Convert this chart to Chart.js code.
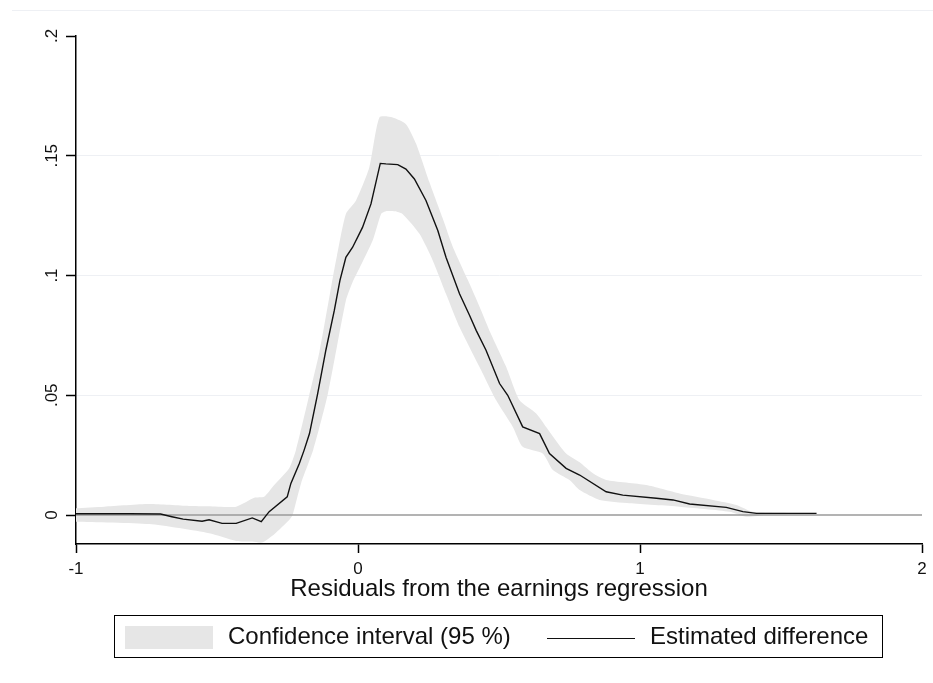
<!DOCTYPE html>
<html>
<head>
<meta charset="utf-8">
<script src="https://cdn.jsdelivr.net/npm/chart.js@4/dist/chart.umd.min.js"></script>
<style>
body{margin:0;background:#fff;font-family:"Liberation Sans",Arial,sans-serif;}
#wrap{position:relative;width:933px;height:683px;}
#topline{position:absolute;left:12px;right:0;top:10px;border-top:1px solid #eef0f4;}
#legend{position:absolute;left:114px;top:615px;width:767px;height:41px;border:1.5px solid #000;}
#legend .sw{position:absolute;left:10px;top:10px;width:88px;height:23px;background:#e6e6e6;}
#legend .ln{position:absolute;left:432px;top:22px;width:88px;border-top:1.5px solid #111;}
#legend .tx{position:absolute;top:6px;font-size:24px;color:#111;white-space:nowrap;}
</style>
</head>
<body>
<div id="wrap">
<canvas id="chart" width="933" height="683"></canvas>
<div id="topline"></div>
<div id="legend">
  <div class="sw"></div><div class="tx" style="left:113px">Confidence interval (95 %)</div>
  <div class="ln"></div><div class="tx" style="left:535px">Estimated difference</div>
</div>
</div>
<script>
// estimated difference
const estX = [-1.0,-0.81,-0.70,-0.66,-0.62,-0.553,-0.528,-0.482,-0.432,-0.375,-0.343,-0.315,-0.251,-0.238,-0.208,-0.191,-0.172,-0.143,-0.114,-0.084,-0.064,-0.043,-0.019,0.016,0.046,0.079,0.099,0.141,0.17,0.2,0.241,0.283,0.312,0.36,0.395,0.419,0.454,0.502,0.531,0.584,0.644,0.679,0.738,0.786,0.88,0.939,1.058,1.117,1.176,1.306,1.365,1.413,1.626];
const estY = [0.0005,0.0005,0.0004,-0.0007,-0.0017,-0.0026,-0.002,-0.0035,-0.0035,-0.0012,-0.0028,0.0014,0.0076,0.0132,0.0215,0.0271,0.034,0.0507,0.0688,0.0854,0.098,0.1076,0.1118,0.1201,0.1299,0.1468,0.1466,0.1463,0.1444,0.1403,0.1313,0.1188,0.1076,0.0924,0.0835,0.0771,0.0688,0.0549,0.05,0.0368,0.034,0.0257,0.0195,0.0167,0.0097,0.0083,0.007,0.0063,0.0046,0.0032,0.0014,0.0007,0.0007];

// 95% confidence band
const upX = [-1.0,-0.9,-0.74,-0.6,-0.53,-0.432,-0.368,-0.333,-0.297,-0.244,-0.22,-0.173,-0.137,-0.088,-0.075,-0.043,-0.007,0.04,0.076,0.123,0.17,0.206,0.253,0.3,0.336,0.39,0.431,0.47,0.525,0.573,0.632,0.667,0.738,0.786,0.833,0.88,1.022,1.14,1.259,1.342,1.4,1.62];
const upY = [0.0028,0.0035,0.0046,0.0038,0.0037,0.0035,0.0072,0.0076,0.0125,0.0195,0.0271,0.05,0.068,0.1,0.108,0.1257,0.1313,0.1451,0.166,0.166,0.1632,0.155,0.139,0.124,0.112,0.098,0.087,0.076,0.062,0.0479,0.0424,0.0368,0.0257,0.022,0.0174,0.0146,0.0125,0.009,0.0063,0.0042,0.0014,0.0008];
const loX = [-1.0,-0.74,-0.528,-0.432,-0.375,-0.34,-0.296,-0.244,-0.232,-0.202,-0.159,-0.108,-0.043,-0.02,0.005,0.052,0.082,0.099,0.13,0.158,0.218,0.265,0.312,0.36,0.431,0.49,0.549,0.584,0.655,0.691,0.75,0.786,0.857,0.963,1.14,1.318,1.377,1.448,1.62];
const loY = [-0.0028,-0.0038,-0.0076,-0.0108,-0.0111,-0.0115,-0.0079,-0.0021,0,0.0132,0.0271,0.05,0.0896,0.097,0.103,0.1146,0.1257,0.1268,0.1268,0.1257,0.1174,0.1063,0.0924,0.0785,0.0618,0.0479,0.0368,0.0285,0.0257,0.0188,0.0146,0.0104,0.0063,0.0049,0.0035,0.0014,-0.0007,0,0.0003];

// reference line at zero
const zeroX = [-1, 2];
const zeroY = [0, 0];

const xTicks = [-1, 0, 1, 2];
const xTickLabels = ["-1", "0", "1", "2"];
const yTicks = [0, 0.05, 0.1, 0.15, 0.2];
const yTickLabels = ["0", ".05", ".1", ".15", ".2"];

function pts(xs, ys){
  return xs.map((x, i) => ({x: x, y: ys[i]}));
}

const font = "'Liberation Sans', Arial, sans-serif";

new Chart(document.getElementById("chart"), {
  type: "line",
  data: {
    datasets: [
      {label: "Estimated difference", data: pts(estX, estY), borderColor: "#111", borderWidth: 1.4, pointRadius: 0, tension: 0, fill: false},
      {label: "zero", data: pts(zeroX, zeroY), borderColor: "#9a9a9a", borderWidth: 1.3, pointRadius: 0, fill: false},
      {label: "Confidence interval (95 %)", data: pts(upX, upY), borderWidth: 0, borderColor: "rgba(0,0,0,0)", backgroundColor: "#e6e6e6", pointRadius: 0, tension: 0.2, fill: "+1"},
      {label: "lower", data: pts(loX, loY), borderWidth: 0, borderColor: "rgba(0,0,0,0)", pointRadius: 0, tension: 0.2, fill: false}
    ]
  },
  options: {
    responsive: false,
    animation: false,
    layout: {padding: {left: 0, top: 36, right: 11, bottom: 79}},
    plugins: {legend: {display: false}, tooltip: {enabled: false}},
    scales: {
      x: {
        type: "linear",
        min: -1, max: 2,
        afterBuildTicks: s => { s.ticks = xTicks.map(v => ({value: v})); },
        afterFit: s => { s.height = 60; },
        ticks: {
          callback: v => xTickLabels[xTicks.indexOf(v)],
          font: {family: font, size: 17}, color: "#111", padding: 6, maxRotation: 0
        },
        grid: {drawOnChartArea: false, color: "#000", tickColor: "#000", tickLength: 9, tickWidth: 1.5},
        border: {color: "#000", width: 1.5},
        title: {display: true, text: "Residuals from the earnings regression", font: {family: font, size: 24}, color: "#111", padding: {top: 0, bottom: 0}}
      },
      y: {
        type: "linear",
        min: -0.0121, max: 0.2,
        afterBuildTicks: s => { s.ticks = yTicks.map(v => ({value: v})); },
        afterFit: s => { s.width = 76; },
        ticks: {
          callback: v => yTickLabels[yTicks.indexOf(v)],
          font: {family: font, size: 17}, color: "#111",
          minRotation: 90, maxRotation: 90, crossAlign: "center", padding: 2
        },
        grid: {
          color: c => (c.tick && (c.tick.value === 0 || c.tick.value === 0.2)) ? "rgba(0,0,0,0)" : "#eef0f4",
          lineWidth: 1, tickColor: "#000", tickLength: 10, tickWidth: 1.5
        },
        border: {color: "#000", width: 1.5}
      }
    }
  }
});
</script>
</body>
</html>
